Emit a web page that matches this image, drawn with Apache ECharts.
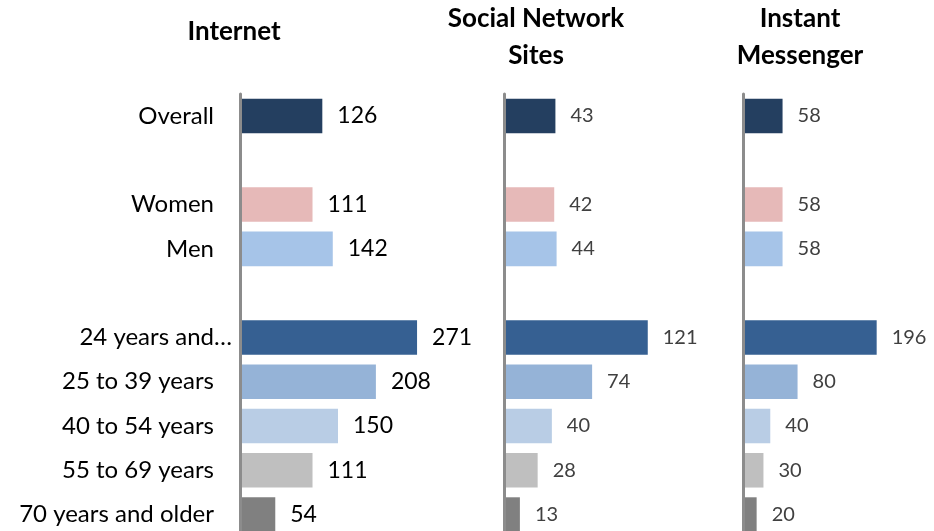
<!DOCTYPE html>
<html>
<head>
<meta charset="utf-8">
<script src="https://cdn.jsdelivr.net/npm/echarts@6/dist/echarts.min.js"></script>
<style>html,body{margin:0;padding:0;background:#fff;overflow:hidden}#c{width:934px;height:545px}</style>
</head>
<body>
<div id="c"></div>
<script>
const categories = ['Overall', ' ', 'Women', 'Men', '  ', '24 years and…', '25 to 39 years', '40 to 54 years', '55 to 69 years', '70 years and older'];
const internet = [126, null, 111, 142, null, 271, 208, 150, 111, 54];
const socialNetwork = [43, null, 42, 44, null, 121, 74, 40, 28, 13];
const instantMessenger = [58, null, 58, 58, null, 196, 80, 40, 30, 20];
const panelTitles = ['Internet', 'Social Network\nSites', 'Instant\nMessenger'];

const palette = ['#243F60', null, '#E6B9B8', '#A6C4E8', null, '#366092', '#95B3D7', '#B9CDE5', '#BFBFBF', '#808080'];
const FONT = 'Lato';

const chart = echarts.init(document.getElementById('c'));

const panels = [
  {data: internet, left: 240, width: 196, max: 300, labelColor: '#000', labelSize: 23, titleX: 234, titleTop: 13},
  {data: socialNetwork, left: 504.5, width: 177.6, max: 150, labelColor: '#404040', labelSize: 20, titleX: 536, titleTop: 0},
  {data: instantMessenger, left: 743, width: 170.5, max: 250, labelColor: '#404040', labelSize: 20, titleX: 800, titleTop: 0}
];

const gridTop = 93.9, gridHeight = 442.8;

const option = {
  animation: false,
  backgroundColor: '#fff',
  title: panels.map((p, i) => ({
    text: panelTitles[i],
    left: p.titleX,
    top: p.titleTop,
    textAlign: 'center',
    padding: 0,
    textStyle: {fontFamily: FONT, fontWeight: 'bold', fontSize: 26, color: '#000', lineHeight: 37}
  })),
  grid: panels.map(p => ({left: p.left, top: gridTop, width: p.width, height: gridHeight, containLabel: false})),
  xAxis: panels.map((p, i) => ({
    type: 'value', gridIndex: i, min: 0, max: p.max, show: false
  })),
  yAxis: panels.map((p, i) => ({
    type: 'category', gridIndex: i, inverse: true, z: 5,
    data: i === 0 ? categories.map(c => c === '24 years and…' ? {value: c, textStyle: {padding: [0, 0, 0, 0]}} : c) : categories,
    axisLine: {show: true, lineStyle: {color: '#8c8c8c', width: 3}},
    axisTick: {show: false},
    splitLine: {show: false},
    axisLabel: i === 0 ? {
      show: true, margin: 8, padding: [0, 18, 0, 0],
      fontFamily: FONT, fontSize: 24, color: '#000'
    } : {show: false}
  })),
  series: panels.map((p, i) => ({
    type: 'bar', xAxisIndex: i, yAxisIndex: i,
    barWidth: '78%',
    data: p.data.map((v, k) => v == null ? '-' : {value: v, itemStyle: {color: palette[k]}}),
    label: {
      show: true, position: 'right', distance: 15,
      fontFamily: FONT, fontSize: p.labelSize, color: p.labelColor
    }
  }))
};
chart.setOption(option);
</script>
</body>
</html>
